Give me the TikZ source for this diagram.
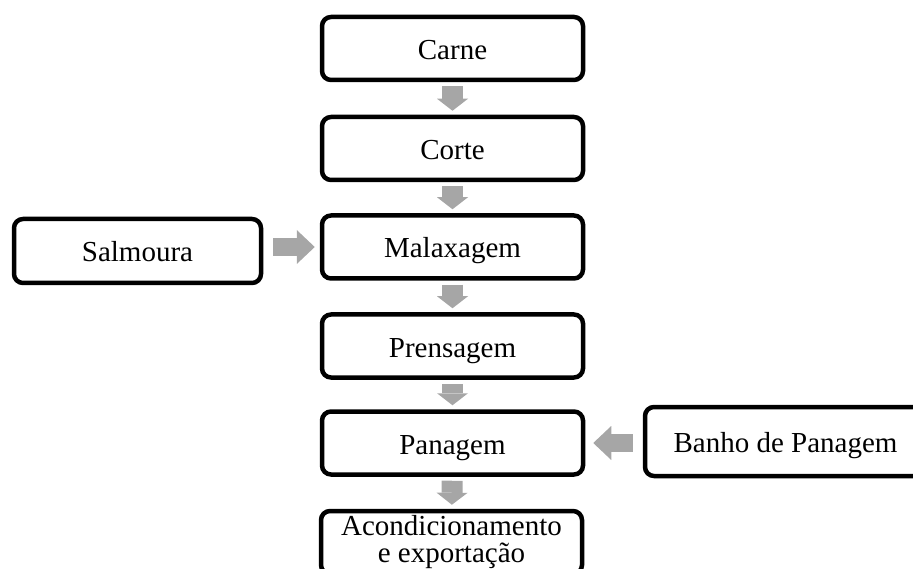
\documentclass[tikz,border=0pt]{standalone}
\usepackage{fontspec}
\setmainfont{Liberation Serif}
\usetikzlibrary{arrows.meta}
\definecolor{seta}{HTML}{A6A6A6}
\tikzset{
  etapa/.style={draw, line width=4.5pt, rounded corners=9pt, fill=white, inner sep=0pt,
    minimum width=261pt, minimum height=63pt, align=center, text height=22pt, text depth=0pt,
    font=\fontsize{29}{27}\selectfont},
  setav/.style={draw=seta, line width=21pt, -{Triangle[length=12pt, width=31pt, line width=0pt]},
    shorten <=4pt, shorten >=4pt},
  setah/.style={draw=seta, line width=18pt, -{Triangle[length=18pt, width=34pt, line width=0pt]}},
}
\begin{document}
\begin{tikzpicture}[x=1pt, y=-1pt]
                \clip (0,0) rectangle (913,569);
                % etapas do processo
                \node[etapa] (carne) at (452.5,48.5) {Carne};
                \node[etapa] (corte) at (452.5,148.5) {Corte};
                \node[etapa] (malax) at (452.5,247) {Malaxagem};
                \node[etapa] (prens) at (452.5,346) {Prensagem};
                \node[etapa] (panag) at (452.5,443) {Panagem};
                \node[etapa, text height={}, text depth={}] (acond) at (451.5,542.5) {Acondicionamento\\e exportação};
                % entradas laterais
                \node[etapa, minimum width=247pt, minimum height=64pt] (salm) at (137.5,251) {Salmoura};
                \node[etapa, minimum width=281pt, minimum height=69pt] (banho) at (785.5,441.5) {Banho de Panagem};
                % setas
                \draw[setav] (carne) -- (corte);
                \draw[setav] (corte) -- (malax);
                \draw[setav] (malax) -- (prens);
                \draw[setav] (prens) -- (panag);
                \draw[setav] (panag) -- (acond);
                \draw[setah, shorten <=10pt, shorten >=5pt] (salm.east |- malax.west) -- (malax.west);
                \draw[setah, shorten <=10pt, shorten >=8pt] (banho.west |- panag.east) -- (panag.east);
\end{tikzpicture}
\end{document}
